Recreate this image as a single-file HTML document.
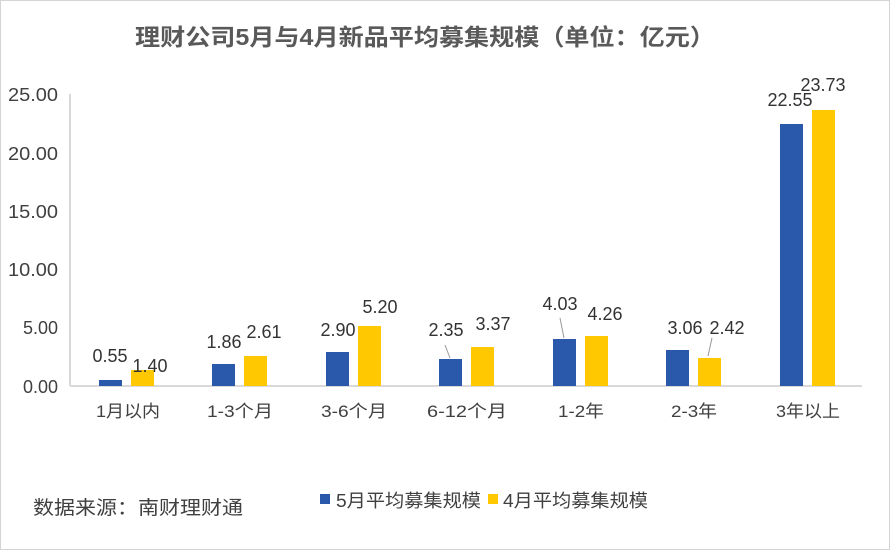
<!DOCTYPE html><html><head><meta charset="utf-8"><style>body{margin:0}svg{display:block}</style></head><body>
<svg width="890" height="550" xmlns="http://www.w3.org/2000/svg" font-family="Liberation Sans, Noto Sans CJK SC, sans-serif">
<rect x="0.5" y="0.5" width="889" height="549" fill="#fff" stroke="#d4d4d4"/>
<text x="135" y="45" font-size="23" font-weight="bold" fill="#595959" textLength="580" lengthAdjust="spacingAndGlyphs">理财公司5月与4月新品平均募集规模（单位：亿元）</text>
<g font-size="18" fill="#404040" text-anchor="end">
<text x="58" y="393">0.00</text><text x="58" y="334">5.00</text><text x="58" y="276" textLength="50" lengthAdjust="spacingAndGlyphs">10.00</text><text x="58" y="218" textLength="50" lengthAdjust="spacingAndGlyphs">15.00</text><text x="58" y="160" textLength="50" lengthAdjust="spacingAndGlyphs">20.00</text><text x="58" y="101" textLength="50" lengthAdjust="spacingAndGlyphs">25.00</text></g>
<line x1="70" y1="94" x2="70" y2="386" stroke="#d9d9d9" stroke-width="2"/>
<line x1="70" y1="386" x2="862" y2="386" stroke="#d9d9d9" stroke-width="2"/>
<g fill="#2a58aa">
<rect x="99" y="380" width="23" height="6"/><rect x="212" y="364" width="23" height="22"/><rect x="326" y="352" width="23" height="34"/><rect x="439" y="359" width="23" height="27"/><rect x="553" y="339" width="23" height="47"/><rect x="666" y="350" width="23" height="36"/><rect x="780" y="124" width="23" height="262"/></g>
<g fill="#ffc800">
<rect x="131" y="370" width="23" height="16"/><rect x="244" y="356" width="23" height="30"/><rect x="358" y="326" width="23" height="60"/><rect x="471" y="347" width="23" height="39"/><rect x="585" y="336" width="23" height="50"/><rect x="698" y="358" width="23" height="28"/><rect x="812" y="110" width="23" height="276"/></g>
<g stroke="#999" stroke-width="1"><line x1="445" y1="345" x2="450" y2="358"/><line x1="560" y1="318" x2="564" y2="338"/><line x1="712" y1="338" x2="708" y2="356"/></g>
<g font-size="18" fill="#333" text-anchor="middle">
<text x="110" y="362">0.55</text><text x="150" y="372">1.40</text>
<text x="224" y="348">1.86</text><text x="264" y="338">2.61</text>
<text x="338" y="336">2.90</text><text x="380" y="313">5.20</text>
<text x="446" y="336">2.35</text><text x="493" y="330">3.37</text>
<text x="560" y="310">4.03</text><text x="605" y="320">4.26</text>
<text x="685" y="334">3.06</text><text x="727" y="334">2.42</text>
<text x="790" y="106">22.55</text><text x="823" y="91">23.73</text></g>
<g font-size="17" fill="#404040" text-anchor="middle" lengthAdjust="spacingAndGlyphs">
<text x="128" y="417" textLength="64" lengthAdjust="spacingAndGlyphs">1月以内</text><text x="240" y="417" textLength="66" lengthAdjust="spacingAndGlyphs">1-3个月</text><text x="354" y="417" textLength="66" lengthAdjust="spacingAndGlyphs">3-6个月</text><text x="467" y="417" textLength="80" lengthAdjust="spacingAndGlyphs">6-12个月</text><text x="581" y="417" textLength="46" lengthAdjust="spacingAndGlyphs">1-2年</text><text x="694" y="417" textLength="46" lengthAdjust="spacingAndGlyphs">2-3年</text><text x="808" y="417" textLength="64" lengthAdjust="spacingAndGlyphs">3年以上</text></g>
<text x="33" y="514" font-size="19" fill="#404040" textLength="210" lengthAdjust="spacingAndGlyphs">数据来源：南财理财通</text>
<rect x="320" y="494" width="10" height="10" fill="#2a58aa"/>
<text x="336" y="507" font-size="18" fill="#404040" textLength="145" lengthAdjust="spacingAndGlyphs">5月平均募集规模</text>
<rect x="488" y="494" width="10" height="10" fill="#ffc800"/>
<text x="503" y="507" font-size="18" fill="#404040" textLength="145" lengthAdjust="spacingAndGlyphs">4月平均募集规模</text>
</svg></body></html>
